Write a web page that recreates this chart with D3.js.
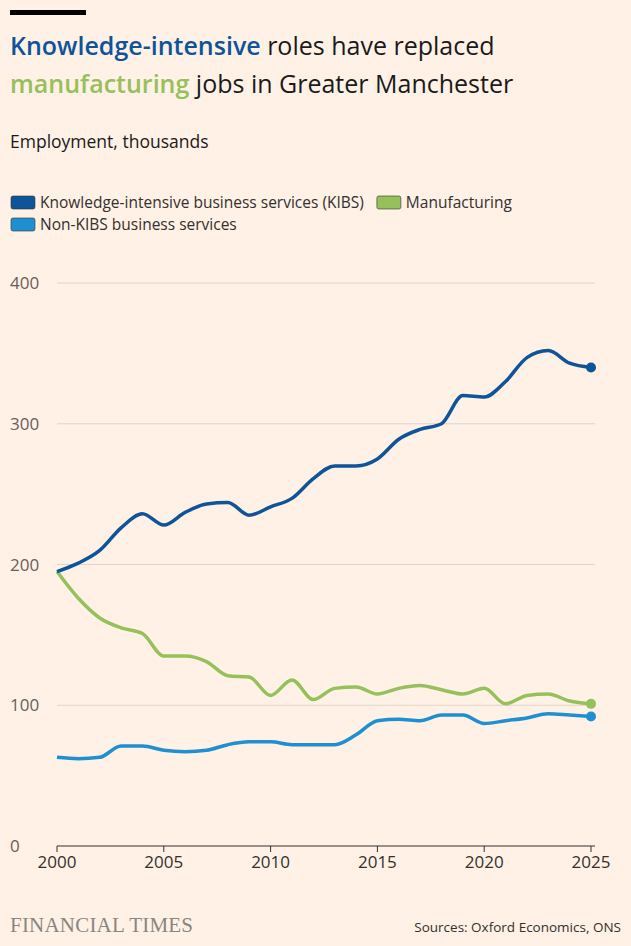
<!DOCTYPE html>
<html><head><meta charset="utf-8">
<script src="https://cdn.jsdelivr.net/npm/d3@7"></script>
<style>
body{margin:0;background:#fff1e5;font-family:"Open Sans","Noto Sans",sans-serif;}
</style></head><body>
<svg id="chart" width="631" height="946"></svg>
<script>
var years = d3.range(2000, 2026);
var kibs = [195,201,210,226,236,228,237,243,244,235,241,247,261,270,270,275,289,296,300,320,319,330,347,352,343,340];
var manufacturing = [195,176,162,155,151,135,135,131,121,120,107,118,104,112,113,108,112,114,111,108,112,101,107,108,103,101];
var nonKibs = [63,62,63,71,71,68,67,68,72,74,74,72,72,72,79,89,90,89,93,93,87,89,91,94,93,92];
var yTicks = [0,100,200,300,400];
var xTicks = [2000,2005,2010,2015,2020,2025];

var series = [
    {name:"Knowledge-intensive business services (KIBS)", values:kibs, color:"#0f5499"},
    {name:"Manufacturing", values:manufacturing, color:"#96c05a"},
    {name:"Non-KIBS business services", values:nonKibs, color:"#1e90d2"}
];

var svg = d3.select("#chart");
var margin = {left:57, right:40, top:283, bottom:100};
var width = 631, height = 946;

svg.append("rect").attr("x",10).attr("y",10).attr("width",76).attr("height",5).attr("fill","#000");

var title = svg.append("text").attr("font-size",25).attr("font-weight",500).attr("fill","#1a1a1a");
title.append("tspan").attr("x",10).attr("y",55).attr("fill","#0f5499").attr("font-weight",600).text("Knowledge-intensive");
title.append("tspan").text(" roles have replaced");
title.append("tspan").attr("x",10).attr("y",93).attr("fill","#96c05a").attr("font-weight",600).text("manufacturing");
title.append("tspan").text(" jobs in Greater Manchester");

svg.append("text").attr("x",10).attr("y",148).attr("font-size",17.5).attr("fill","#1a1a1a").text("Employment, thousands");

// legend
var legendX = 10;
var legendPos = [[10,208],[null,208],[10,230]];
series.forEach(function(s,i){
    var x = legendPos[i][0] === null ? legendX : legendPos[i][0];
    var g = svg.append("g").attr("transform","translate("+x+","+legendPos[i][1]+")");
    g.append("rect").attr("x",1).attr("y",-12).attr("width",24).attr("height",13).attr("rx",2)
        .attr("fill",s.color).attr("stroke","#33302e").attr("stroke-width",0.6);
    var t = g.append("text").attr("x",30).attr("y",0).attr("font-size",15.5).attr("fill","#33302e").text(s.name);
    if (i === 0) legendX = x + 30 + t.node().getComputedTextLength() + 12;
});

var xScale = d3.scaleLinear().domain([2000,2025]).range([margin.left, width - margin.right]);
var yScale = d3.scaleLinear().domain([0,400]).range([height - margin.bottom, margin.top]);

svg.append("g").selectAll("line").data(yTicks).enter().append("line")
    .attr("x1",margin.left).attr("x2",width - margin.right + 4)
    .attr("y1",function(d){return yScale(d);}).attr("y2",function(d){return yScale(d);})
    .attr("stroke",function(d){return d === 0 ? "#33302e" : "#e0d4c8";})
    .attr("stroke-width",function(d){return d === 0 ? 1.2 : 1;});

svg.append("g").selectAll("text").data(yTicks).enter().append("text")
    .attr("x",10).attr("y",function(d){return yScale(d) + 6;})
    .attr("font-size",17).attr("fill","#66605c").text(function(d){return d;});

var xAxis = svg.append("g").attr("transform","translate(0,"+yScale(0)+")");
xAxis.selectAll("line").data(xTicks).enter().append("line")
    .attr("x1",function(d){return xScale(d);}).attr("x2",function(d){return xScale(d);})
    .attr("y1",0).attr("y2",6).attr("stroke","#33302e");
xAxis.selectAll("text").data(xTicks).enter().append("text")
    .attr("x",function(d){return xScale(d);}).attr("y",22).attr("text-anchor","middle")
    .attr("font-size",17).attr("fill","#33302e").text(function(d){return d;});

var line = d3.line()
    .x(function(d,i){return xScale(years[i]);})
    .y(function(d){return yScale(d);})
    .curve(d3.curveMonotoneX);

[2,1,0].forEach(function(i){
    var s = series[i];
    svg.append("path").attr("d",line(s.values)).attr("fill","none")
        .attr("stroke",s.color).attr("stroke-width",3.5).attr("stroke-linejoin","round");
    svg.append("circle").attr("cx",xScale(2025)).attr("cy",yScale(s.values[s.values.length-1]))
        .attr("r",5).attr("fill",s.color);
});

svg.append("text").attr("x",10).attr("y",932).attr("font-family","Liberation Serif, serif")
    .attr("font-size",21).attr("fill","#8a8580").attr("letter-spacing",0.2).text("FINANCIAL TIMES");
svg.append("text").attr("x",621).attr("y",932).attr("text-anchor","end")
    .attr("font-size",13.5).attr("fill","#33302e").text("Sources: Oxford Economics, ONS");
</script>
</body></html>
